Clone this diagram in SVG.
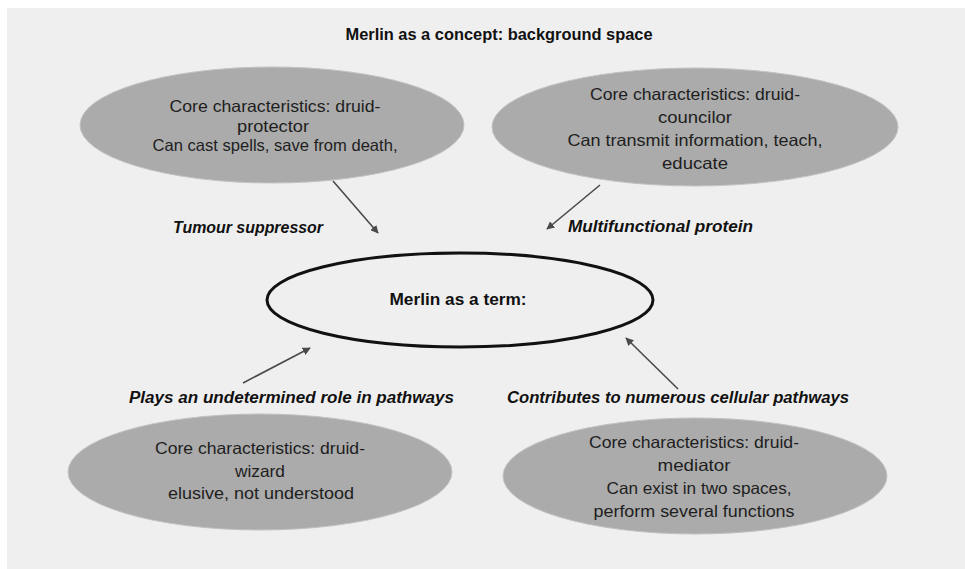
<svg xmlns="http://www.w3.org/2000/svg" width="965" height="569" viewBox="0 0 965 569">
<style>
.bg{fill:#efefef}
.oval{fill:#ababab;stroke:#c2c2c2;stroke-width:1}
.term{fill:#efefef;stroke:#111;stroke-width:3}
.t{font-family:"Liberation Sans",Arial,sans-serif;font-size:16.5px;fill:#1e1e1e;text-anchor:middle}
.b{font-family:"Liberation Sans",Arial,sans-serif;font-size:16px;font-weight:bold;fill:#111;text-anchor:middle}
.bi{font-family:"Liberation Sans",Arial,sans-serif;font-size:16px;font-weight:bold;font-style:italic;fill:#111}
.c{stroke:#4a4a4a;stroke-width:1.6;fill:none;marker-end:url(#ah)}
</style>
<defs>
<marker id="ah" viewBox="0 0 10 10" refX="9" refY="5" markerWidth="5" markerHeight="5" orient="auto" markerUnits="strokeWidth">
<path d="M0,0 L10,5 L0,10 z" fill="#4a4a4a"/>
</marker>
</defs>
<rect x="0" y="0" width="965" height="569" fill="#ffffff"/>
<rect class="bg" x="7" y="8" width="958" height="561"/>
<text class="b" x="499" y="40" textLength="307" lengthAdjust="spacingAndGlyphs">Merlin as a concept: background space</text>

<g id="protector">
<ellipse class="oval" cx="272" cy="125" rx="192" ry="58"/>
<text class="t" x="275" y="112" textLength="211" lengthAdjust="spacingAndGlyphs">Core characteristics: druid-</text>
<text class="t" x="273" y="132" textLength="72" lengthAdjust="spacingAndGlyphs">protector</text>
<text class="t" x="275" y="151" textLength="245" lengthAdjust="spacingAndGlyphs">Can cast spells, save from death,</text>
</g>

<g id="councilor">
<ellipse class="oval" cx="695" cy="127" rx="203" ry="59"/>
<text class="t" x="695" y="100" textLength="210" lengthAdjust="spacingAndGlyphs">Core characteristics: druid-</text>
<text class="t" x="695" y="123" textLength="74" lengthAdjust="spacingAndGlyphs">councilor</text>
<text class="t" x="695" y="146" textLength="255" lengthAdjust="spacingAndGlyphs">Can transmit information, teach,</text>
<text class="t" x="695" y="169" textLength="66" lengthAdjust="spacingAndGlyphs">educate</text>
</g>

<g id="term">
<ellipse class="term" cx="460" cy="300" rx="193" ry="47"/>
<text class="b" x="458" y="305" textLength="137" lengthAdjust="spacingAndGlyphs">Merlin as a term:</text>
</g>

<g id="wizard">
<ellipse class="oval" cx="260" cy="472" rx="192" ry="58"/>
<text class="t" x="260" y="454" textLength="210" lengthAdjust="spacingAndGlyphs">Core characteristics: druid-</text>
<text class="t" x="260" y="477" textLength="50" lengthAdjust="spacingAndGlyphs">wizard</text>
<text class="t" x="261" y="499" textLength="186" lengthAdjust="spacingAndGlyphs">elusive, not understood</text>
</g>

<g id="mediator">
<ellipse class="oval" cx="695" cy="476" rx="192" ry="58"/>
<text class="t" x="694" y="448" textLength="210" lengthAdjust="spacingAndGlyphs">Core characteristics: druid-</text>
<text class="t" x="694" y="471" textLength="73" lengthAdjust="spacingAndGlyphs">mediator</text>
<text class="t" x="699" y="494" textLength="185" lengthAdjust="spacingAndGlyphs">Can exist in two spaces,</text>
<text class="t" x="694" y="517" textLength="201" lengthAdjust="spacingAndGlyphs">perform several functions</text>
</g>

<g id="labels">
<text class="bi" x="173" y="233" textLength="150" lengthAdjust="spacingAndGlyphs">Tumour suppressor</text>
<text class="bi" x="568" y="232" textLength="185" lengthAdjust="spacingAndGlyphs">Multifunctional protein</text>
<text class="bi" x="129" y="403" textLength="325" lengthAdjust="spacingAndGlyphs">Plays an undetermined  role in pathways</text>
<text class="bi" x="507" y="403" textLength="342" lengthAdjust="spacingAndGlyphs">Contributes to numerous cellular pathways</text>
</g>

<g id="connectors">
<line class="c" x1="333" y1="181" x2="378" y2="233"/>
<line class="c" x1="600" y1="185" x2="547" y2="229"/>
<line class="c" x1="243" y1="383" x2="310" y2="348"/>
<line class="c" x1="678" y1="389" x2="626" y2="338"/>
</g>
</svg>
